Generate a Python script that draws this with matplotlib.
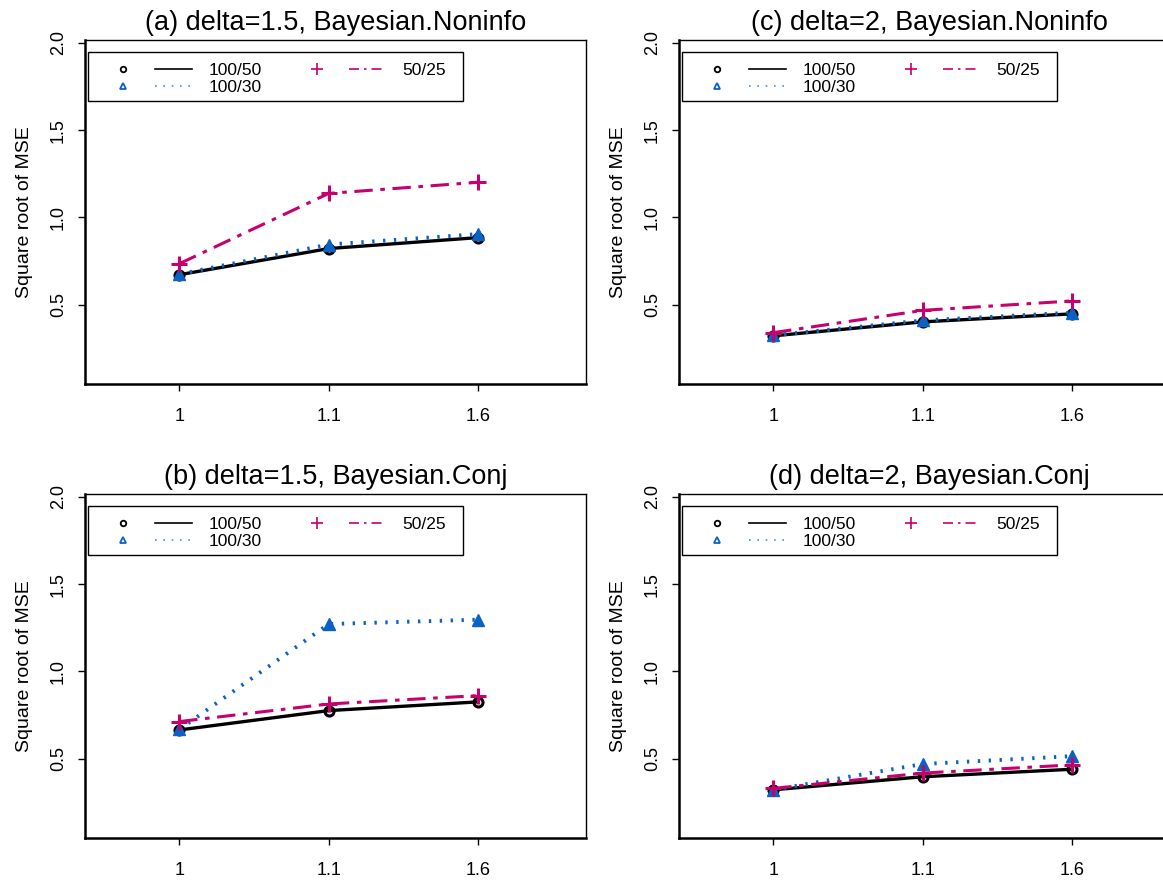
import numpy as np
import matplotlib
matplotlib.use("Agg")
import matplotlib.pyplot as plt
from matplotlib.lines import Line2D
from matplotlib.patches import Rectangle
from matplotlib.legend_handler import HandlerTuple

plt.rcParams['font.family'] = ['Liberation Sans', 'DejaVu Sans']

# x categories (ratio) shown as evenly spaced positions
x_labels = ['1', '1.1', '1.6']

# square root of MSE
a_100_50 = [0.672, 0.822, 0.885]
a_100_30 = [0.675, 0.845, 0.905]
a_50_25 = [0.735, 1.138, 1.202]

b_100_50 = [0.665, 0.776, 0.826]
b_100_30 = [0.668, 1.272, 1.297]
b_50_25 = [0.713, 0.814, 0.862]

c_100_50 = [0.322, 0.402, 0.448]
c_100_30 = [0.325, 0.410, 0.455]
c_50_25 = [0.340, 0.468, 0.522]

d_100_50 = [0.322, 0.397, 0.440]
d_100_30 = [0.322, 0.470, 0.515]
d_50_25 = [0.330, 0.418, 0.465]

titles = ['(a) delta=1.5, Bayesian.Noninfo', '(b) delta=1.5, Bayesian.Conj',
          '(c) delta=2, Bayesian.Noninfo', '(d) delta=2, Bayesian.Conj']
series_labels = ['100/50', '100/30', '50/25']

BLUE = '#0a62c4'
PINK = '#c8006e'

W, H = 1163, 881
fig = plt.figure(figsize=(W / 100, H / 100), dpi=100)

# axes boxes in pixels: left, top
boxes = [(85, 40), (85, 494), (679, 40), (679, 494)]
aw, ah = 501, 344
data = [(a_100_50, a_100_30, a_50_25), (b_100_50, b_100_30, b_50_25),
        (c_100_50, c_100_30, c_50_25), (d_100_50, d_100_30, d_50_25)]

x = np.arange(1, len(x_labels) + 1)

for (l, t), title, (s1, s2, s3) in zip(boxes, titles, data):
    ax = fig.add_axes([l / W, 1 - (t + ah) / H, aw / W, ah / H])
    ax.plot(x, s1, color='black', lw=2.4, marker='o', ms=6.5,
            mfc='none', mec='black', mew=2.2, zorder=3)
    ax.plot(x, s2, color=BLUE, lw=2.8, ls=(0, (0.6, 2.2)), marker='^', ms=8,
            mfc=BLUE, mec=BLUE, zorder=4)
    ax.plot(x, s3, color=PINK, lw=2.2, ls=(0, (6, 2.5, 1.5, 2.5)), marker='+',
            ms=11, mew=2.2, zorder=5)

    ax.set_xlim(0.37, 3.72)
    ax.set_ylim(0.046, 2.017)
    ax.set_xticks(x)
    ax.set_xticklabels(x_labels)
    ax.set_yticks([0.5, 1.0, 1.5, 2.0])
    ax.set_yticklabels(['0.5', '1.0', '1.5', '2.0'], rotation=90, va='center')
    ax.tick_params(axis='both', direction='out', length=5, width=1,
                   labelsize=13, colors='black')
    ax.tick_params(axis='x', pad=12.5)
    ax.tick_params(axis='y', pad=8)
    for sp in ax.spines.values():
        sp.set_linewidth(1.0)
    ax.spines['left'].set_linewidth(1.8)
    ax.spines['bottom'].set_linewidth(1.8)
    ax.set_ylabel('Square root of MSE', fontsize=14, labelpad=12)
    ax.set_title(title, fontsize=19.5, pad=7)

    # legend: small symbol, then line sample, then text, inside a plain box
    ax.add_patch(Rectangle((0.006, 0.8227), 0.7485, 0.1424, transform=ax.transAxes,
                           fill=True, facecolor='white', edgecolor='black',
                           lw=1.0, zorder=6))
    h1 = (Line2D([], [], ls='none', marker='o', ms=4, mfc='none', mec='black', mew=1.3),
          Line2D([], [], color='black', lw=1.2))
    h2 = (Line2D([], [], ls='none', marker='^', ms=4.5, mfc='none', mec=BLUE, mew=1.3),
          Line2D([], [], color='#4a90e0', lw=1.2, ls=(0, (1, 4))))
    h3 = (Line2D([], [], ls='none', marker='+', ms=8, mec=PINK, mew=1.2),
          Line2D([], [], color=PINK, lw=1.2, ls=(0, (6, 3, 1.5, 3))))
    leg = ax.legend([h1, h2, h3], series_labels, ncol=2,
                    handler_map={tuple: HandlerTuple(ndivide=None, pad=0.78)},
                    handlelength=5.04, handletextpad=0.95, columnspacing=2.1,
                    labelspacing=0.1, fontsize=12.5, frameon=False,
                    loc='upper left', borderpad=0, borderaxespad=0,
                    bbox_to_anchor=(0.039, 0.933))
    leg.set_zorder(7)

fig.savefig('out.png', dpi=100)
